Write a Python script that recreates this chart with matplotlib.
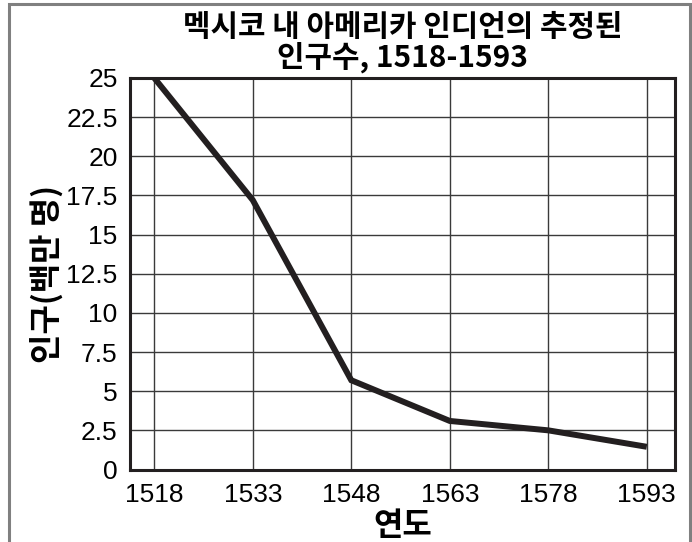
import matplotlib
matplotlib.use('Agg')
import matplotlib.pyplot as plt
from matplotlib.patches import Rectangle

# 데이터
years = [1518, 1533, 1548, 1563, 1578, 1593]
population = [25.0, 17.2, 5.7, 3.1, 2.5, 1.45]
y_ticks = [0, 2.5, 5, 7.5, 10, 12.5, 15, 17.5, 20, 22.5, 25]
y_tick_labels = ['0', '2.5', '5', '7.5', '10', '12.5', '15', '17.5', '20', '22.5', '25']

title = '멕시코 내 아메리카 인디언의 추정된\n인구수, 1518-1593'
x_label = '연도'
y_label = '인구(백만 명)'

kfont = ['Noto Sans CJK KR', 'DejaVu Sans']
nfont = ['Liberation Sans', 'DejaVu Sans']

fig = plt.figure(figsize=(6.92, 5.42), dpi=100)
ax = fig.add_axes([130 / 692, 1 - 469.5 / 542, 545 / 692, 391.5 / 542])

ax.plot(years, population, color='#231f20', linewidth=4.3, solid_joinstyle='miter',
        solid_capstyle='butt', zorder=3)

ax.set_xlim(1514.3, 1597.3)
ax.set_ylim(0, 25)
ax.set_xticks(years)
ax.set_xticklabels([str(y) for y in years], family=nfont, fontsize=19, fontstretch='normal')
ax.set_yticks(y_ticks)
ax.set_yticklabels(y_tick_labels, family=nfont, fontsize=19, fontstretch='normal')
ax.tick_params(length=0)
ax.tick_params(axis='y', pad=9)
ax.tick_params(axis='x', pad=10)

ax.grid(True, color='#3a3a3a', linewidth=1.0)
ax.set_axisbelow(True)
for s in ax.spines.values():
    s.set_linewidth(2.2)
    s.set_color('#231f20')

ax.set_title(title, family=kfont, fontsize=21.5, fontweight='black', pad=8, linespacing=0.98)
ax.set_xlabel(x_label, family=kfont, fontsize=23, fontweight='black', labelpad=2)
ax.set_ylabel(y_label, family=kfont, fontsize=23, fontweight='black', labelpad=2)

# 바깥 테두리
fig.patches.append(Rectangle((9 / 692, -0.05), 681 / 692, 1.05 - 4 / 542,
                             transform=fig.transFigure, fill=False,
                             edgecolor='#808080', linewidth=2.2))

fig.savefig('out.png', dpi=100)
